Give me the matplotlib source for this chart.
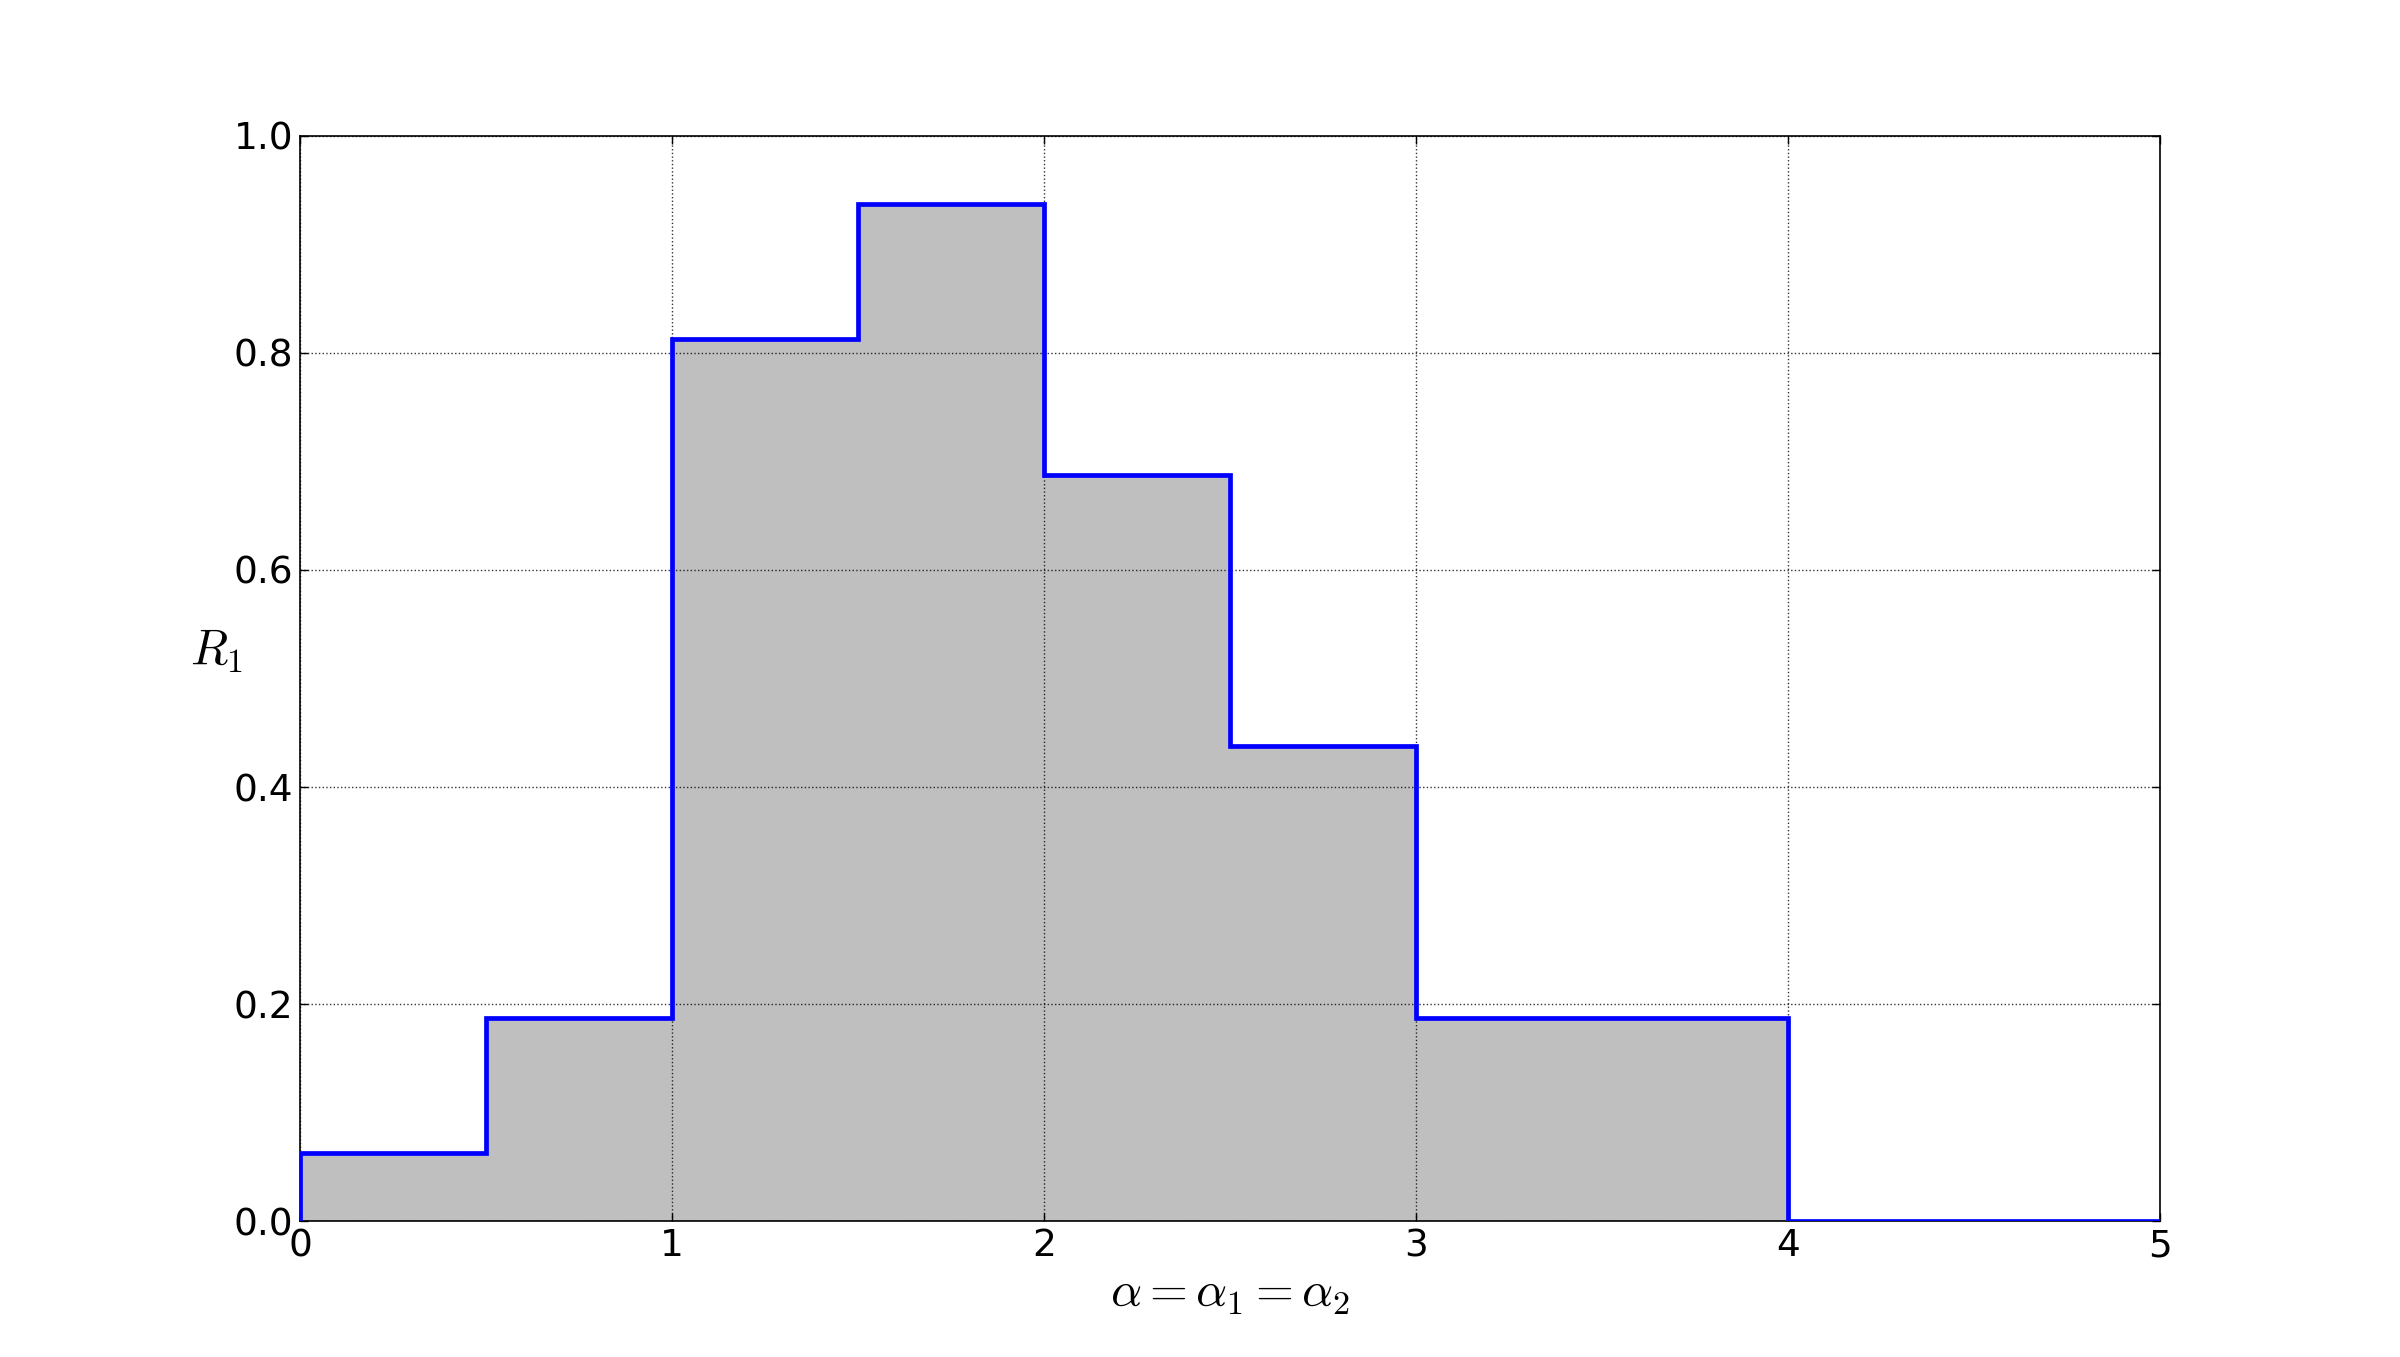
import numpy as np
import matplotlib
matplotlib.use("Agg")
import matplotlib.pyplot as plt

# Data: step function R_1 over alpha
edges = [0.0, 0.5, 1.0, 1.5, 2.0, 2.5, 3.0, 4.0, 5.0]
values = [0.0625, 0.1875, 0.8125, 0.9375, 0.6875, 0.4375, 0.1875, 0.0]
xticks = [0, 1, 2, 3, 4, 5]
yticks = [0.0, 0.2, 0.4, 0.6, 0.8, 1.0]

plt.rcParams['mathtext.fontset'] = 'cm'
fig = plt.figure(figsize=(24, 13.57), dpi=100)
ax = fig.add_axes([0.125, 0.1, 0.775, 0.8])

ax.stairs(values, edges, baseline=0, fill=True, color='#bfbfbf', linewidth=0, zorder=1)
ax.stairs(values, edges, baseline=0, fill=False, color='#0000ff', linewidth=3.4, zorder=3)

ax.set_xlim(0, 5)
ax.set_ylim(0, 1.0)
ax.set_xticks(xticks)
ax.set_yticks(yticks)
ax.set_xticklabels([str(t) for t in xticks])
ax.set_yticklabels([f"{t:.1f}" for t in yticks])
ax.grid(True, linestyle=':', color='k', linewidth=1.0, alpha=0.8, zorder=2)
ax.set_axisbelow(False)
ax.tick_params(direction='in', length=6, width=1, top=True, right=True, labelsize=27, pad=5)
for s in ax.spines.values():
    s.set_linewidth(1.2)

ax.set_xlabel(r'$\alpha=\alpha_1=\alpha_2$', fontsize=35, va='center', ha='center')
ax.xaxis.set_label_coords(0.5, -0.066)
ax.set_ylabel(r'$R_1$', fontsize=35, rotation=0, va='center', ha='center')
ax.yaxis.set_label_coords(-0.045, 0.525)

fig.savefig('out.png', dpi=100)
